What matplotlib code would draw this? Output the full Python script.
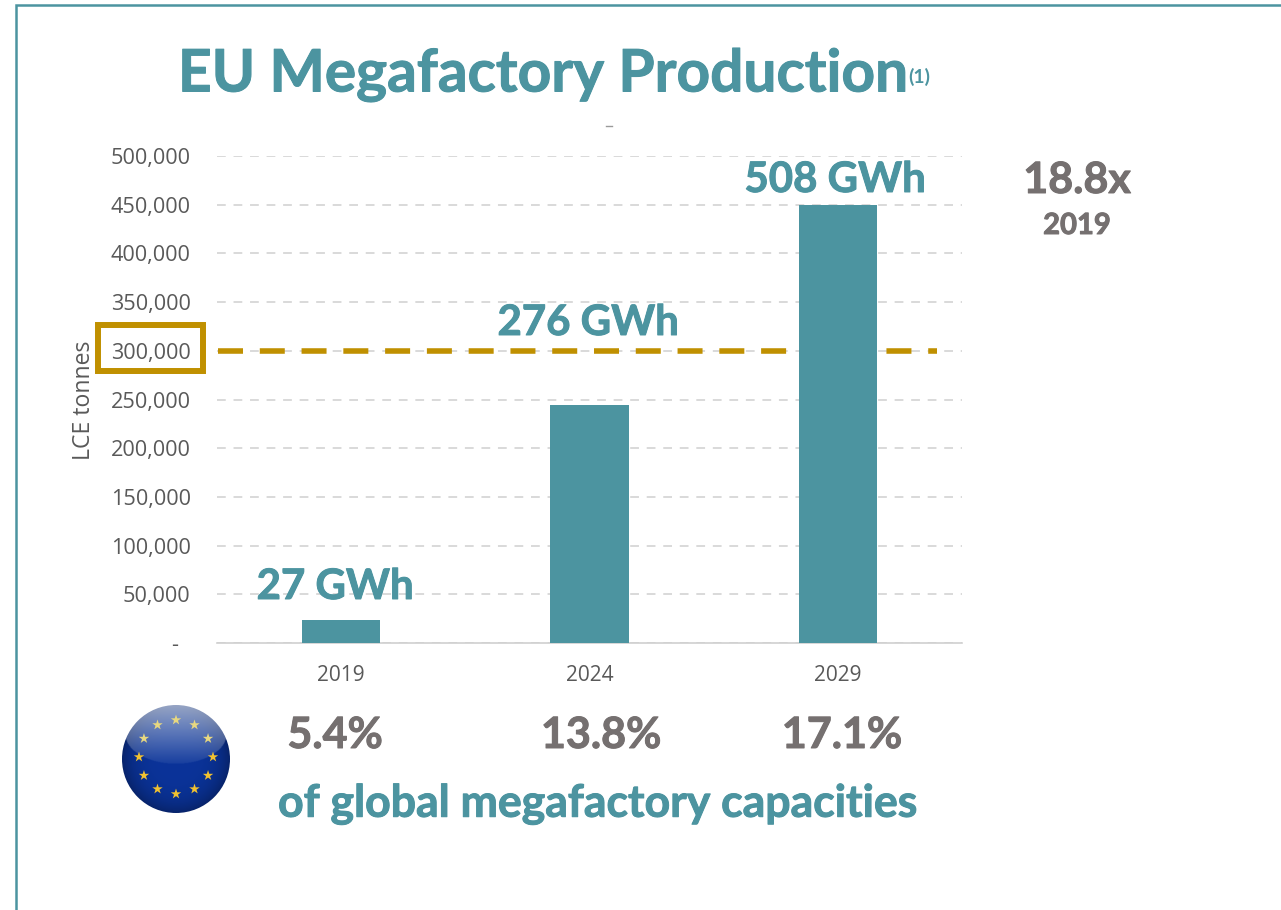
import numpy as np
import matplotlib
matplotlib.use("Agg")
import matplotlib.pyplot as plt
import matplotlib.patheffects as pe
from matplotlib.patches import Rectangle, Circle

W, H = 1281, 910
TEAL = "#4C94A0"
GOLD = "#C09000"
GRAY = "#757070"
TICK = "#595959"

years = ["2019", "2024", "2029"]
lce_tonnes = [24000, 244000, 450000]
gwh_labels = ["27 GWh", "276 GWh", "508 GWh"]
shares = ["5.4%", "13.8%", "17.1%"]
yticks = [0, 50000, 100000, 150000, 200000, 250000, 300000, 350000, 400000, 450000, 500000]
threshold = 300000

fig = plt.figure(figsize=(W / 100, H / 100), dpi=100, facecolor="white")

# overlay in pixel coordinates (y down)
ov = fig.add_axes([0, 0, 1, 1], zorder=5)
ov.set_xlim(0, W)
ov.set_ylim(H, 0)
ov.axis("off")
ov.patch.set_alpha(0)

# chart axes
L, R, T, B = 217, 962, 156, 643
ax = fig.add_axes([L / W, 1 - B / H, (R - L) / W, (B - T) / H], zorder=2)
ax.set_xlim(-0.5, 2.5)
ax.set_ylim(0, 500000)
ax.patch.set_alpha(0)
x = np.arange(len(years))
ax.bar(x, lce_tonnes, width=78 / 248, color=TEAL, zorder=3)
ax.set_yticks(yticks)
ax.set_yticklabels([f"{v:,}" if v else "-  " for v in yticks], family="Open Sans", fontsize=15.6, color=TICK)
ax.set_xticks(x)
ax.set_xticklabels(years, family="Open Sans", fontsize=15, color=TICK)
ax.tick_params(axis="both", length=0)
ax.tick_params(axis="y", pad=19)
ax.tick_params(axis="x", pad=16)
ax.grid(axis="y", color="#D9D9D9", lw=1.4, dashes=(4.5, 4), zorder=1)
ax.set_axisbelow(True)
for s in ("top", "right", "left"):
    ax.spines[s].set_visible(False)
ax.spines["bottom"].set_color("#D0D0D0")
ax.spines["bottom"].set_linewidth(1.2)
ax.hlines(threshold, -0.5 + 1 / 248, 2.5 - 25 / 248, color=GOLD, lw=4,
          linestyles=(0, (4.5, 3.02)), zorder=2)
ax.text((84 - L) / (R - L), (643 - 400) / 487, "LCE tonnes", transform=ax.transAxes, rotation=90,
        family="Open Sans", fontsize=16.6, color=TICK, ha="center", va="center")

# value labels
BOLD = dict(family="Lato", weight="bold", ha="center", va="center")


def heavy(text, color):
    text.set_path_effects([pe.withStroke(linewidth=0.7, foreground=color)])


heavy(ov.text(335, 587, gwh_labels[0], color=TEAL, fontsize=30.2, **BOLD), TEAL)
heavy(ov.text(588, 323, gwh_labels[1], color=TEAL, fontsize=30.2, **BOLD), TEAL)
heavy(ov.text(835, 180, gwh_labels[2], color=TEAL, fontsize=30.2, **BOLD), TEAL)

# frame
ov.plot([15.5, 15.5, W], [H, 4.5, 4.5], color=TEAL, lw=1.8, solid_joinstyle="miter")

# title
heavy(ov.text(178, 75, "EU Megafactory Production", color=TEAL, family="Lato", weight="bold",
              fontsize=42.2, ha="left", va="center"), TEAL)
ov.text(919.5, 77, "(1)", color=TEAL, fontsize=14, **BOLD)
ov.plot([606, 612], [126, 126], color="#9a9a9a", lw=1)

# side labels
heavy(ov.text(1077, 180, "18.8x", color=GRAY, fontsize=31, **BOLD), GRAY)
heavy(ov.text(1077, 226, "2019", color=GRAY, fontsize=21, **BOLD), GRAY)

# gold box
ov.add_patch(Rectangle((98, 325), 105, 45.5, fill=False, ec=GOLD, lw=4.3, joinstyle="miter"))

# shares
for px, s in zip([335, 601, 842], shares):
    heavy(ov.text(px, 735, s, color=GRAY, fontsize=31, **BOLD), GRAY)
heavy(ov.text(598, 804, "of global megafactory capacities", color=TEAL, fontsize=32.1, **BOLD), TEAL)

# EU flag globe
cx, cy, r = 176, 759, 54
grid_y, grid_x = np.mgrid[cy - r:cy + r:216j, cx - r:cx + r:216j]
d = np.hypot(grid_x - cx, grid_y - cy) / r
base = np.array([0.04, 0.20, 0.60])
edge = np.array([0.03, 0.14, 0.42])
img = base[None, None, :] * (1 - d[..., None] ** 4) + edge[None, None, :] * d[..., None] ** 4
gloss = np.hypot((grid_x - cx) / (r * 0.94), (grid_y - (cy - 25)) / (r * 0.55)) < 1
t = np.clip((grid_y - (cy - r)) / (r * 1.1), 0, 1)
white = np.array([0.85, 0.88, 0.93])
img = np.where(gloss[..., None], img + (white - img) * (0.62 * (1 - t) + 0.06)[..., None], img)
im = ov.imshow(img, extent=(cx - r, cx + r, cy + r, cy - r), zorder=3, interpolation="bilinear")
im.set_clip_path(Circle((cx, cy), r, transform=ov.transData))
ov.set_xlim(0, W)
ov.set_ylim(H, 0)
ov.set_aspect("auto")
ang = np.deg2rad(np.arange(0, 360, 30))
rs = 37
ov.scatter(cx + rs * np.sin(ang), cy - 2 - rs * np.cos(ang), marker="*", s=62,
           c=["#E8D880" if np.cos(a) > 0.2 else "#F2C230" for a in ang], linewidths=0, zorder=4)

fig.savefig("out.png", dpi=100, facecolor="white")
